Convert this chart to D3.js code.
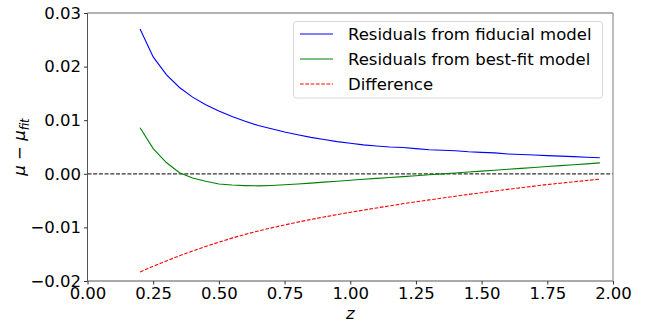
<!DOCTYPE html>
<html>
<head>
<meta charset="utf-8">
<script src="https://cdn.jsdelivr.net/npm/d3@7"></script>
<style>
  body { margin: 0; background: #fff; }
  svg { display: block; font-family: "DejaVu Sans", sans-serif; }
</style>
</head>
<body>
<svg id="chart" width="660" height="322"></svg>
<script>
// ---- data ----
const redshift = [0.20,0.25,0.30,0.35,0.40,0.45,0.50,0.55,0.60,0.65,0.70,0.75,0.80,0.85,0.90,0.95,1.00,1.05,1.10,1.15,1.20,1.25,1.30,1.35,1.40,1.45,1.50,1.55,1.60,1.65,1.70,1.75,1.80,1.85,1.90,1.95];
const fiducialResid = [0.0270,0.0218,0.0185,0.0161,0.0143,0.0129,0.0117,0.0107,0.0098,0.0090,0.0084,0.0078,0.0073,0.0068,0.0064,0.0060,0.0057,0.0054,0.0052,0.0050,0.0049,0.0047,0.0045,0.0044,0.0043,0.0041,0.0040,0.0039,0.0037,0.0036,0.0035,0.0034,0.0033,0.0032,0.0031,0.0030];
const bestfitResid = [0.0086,0.0047,0.0021,0.0002,-0.0008,-0.0014,-0.0019,-0.0021,-0.0022,-0.00225,-0.00217,-0.00205,-0.0019,-0.00174,-0.00156,-0.00138,-0.0012,-0.00103,-0.00086,-0.00069,-0.00052,-0.00035,-0.00018,-0.00001,0.00016,0.00033,0.0005,0.00067,0.00084,0.00101,0.00118,0.00135,0.00152,0.00169,0.00186,0.00203];
const difference = [-0.01830,-0.01725,-0.01625,-0.01530,-0.01440,-0.01355,-0.01275,-0.01200,-0.01130,-0.01067,-0.01009,-0.00954,-0.00902,-0.00853,-0.00806,-0.00761,-0.00718,-0.00677,-0.00637,-0.00598,-0.00560,-0.00523,-0.00487,-0.00452,-0.00418,-0.00385,-0.00353,-0.00322,-0.00290,-0.00260,-0.00230,-0.00200,-0.00175,-0.00150,-0.00125,-0.00100];
const xTicks = [0.00,0.25,0.50,0.75,1.00,1.25,1.50,1.75,2.00];
const yTicks = [-0.02,-0.01,0.00,0.01,0.02,0.03];
const seriesNames = ["Residuals from fiducial model","Residuals from best-fit model","Difference"];

// ---- layout ----
const svg = d3.select("#chart");
const L = 87.5, R = 613, T = 13, B = 281;
const x = d3.scaleLinear().domain([0, 2]).range([L, R]);
const y = d3.scaleLinear().domain([-0.02, 0.03]).range([B, T]);
const fs = 16.5;

// zero line
svg.append("line")
  .attr("x1", L).attr("x2", R)
  .attr("y1", y(0)).attr("y2", y(0))
  .attr("stroke", "#333").attr("stroke-width", 1.25)
  .attr("stroke-dasharray", "4,1.7");

const line = d3.line().x((d, i) => x(redshift[i])).y(d => y(d));
const series = [
  { vals: fiducialResid, color: "#0000ff", dash: null },
  { vals: bestfitResid, color: "#008000", dash: null },
  { vals: difference, color: "#ff0000", dash: "3.7,1.6" }
];
series.forEach(s => {
  svg.append("path").datum(s.vals)
    .attr("d", line)
    .attr("fill", "none")
    .attr("stroke", s.color)
    .attr("stroke-width", 1.1)
    .attr("stroke-dasharray", s.dash);
});

// spines
const spine = svg.append("g").attr("fill", "none");
spine.append("line").attr("x1", L).attr("x2", L).attr("y1", T).attr("y2", B).attr("stroke", "#555").attr("stroke-width", 1);
spine.append("line").attr("x1", L).attr("x2", R).attr("y1", B).attr("y2", B).attr("stroke", "#555").attr("stroke-width", 1);
spine.append("line").attr("x1", L).attr("x2", R).attr("y1", T).attr("y2", T).attr("stroke", "#999").attr("stroke-width", 1.3);
spine.append("line").attr("x1", R).attr("x2", R).attr("y1", T).attr("y2", B).attr("stroke", "#999").attr("stroke-width", 1.3);

// axes
const xAxis = d3.axisBottom(x).tickValues(xTicks).tickFormat(d3.format(".2f")).tickSizeOuter(0).tickSizeInner(3.5).tickPadding(2.5);
const gx = svg.append("g").attr("transform", `translate(0,${B})`).call(xAxis);
gx.select(".domain").remove();
gx.selectAll(".tick line").attr("stroke", "#333");
gx.selectAll("text").attr("font-size", fs).attr("font-family", "DejaVu Sans").attr("fill", "#000");

const fmtY = d => (d < 0 ? "\u2212" : "") + d3.format(".2f")(Math.abs(d));
const yAxis = d3.axisLeft(y).tickValues(yTicks).tickFormat(fmtY).tickSizeOuter(0).tickSizeInner(3.5).tickPadding(3);
const gy = svg.append("g").attr("transform", `translate(${L},0)`).call(yAxis);
gy.select(".domain").remove();
gy.selectAll(".tick line").attr("stroke", "#333");
gy.selectAll("text").attr("font-size", fs).attr("font-family", "DejaVu Sans").attr("fill", "#000");

// axis labels
svg.append("text")
  .attr("x", (L + R) / 2).attr("y", 318.5)
  .attr("text-anchor", "middle")
  .attr("font-size", fs).attr("font-style", "italic")
  .text("z");

const yl = svg.append("text")
  .attr("transform", `translate(25,${(T + B) / 2}) rotate(-90)`)
  .attr("text-anchor", "middle")
  .attr("font-size", fs);
yl.append("tspan").attr("font-style", "italic").text("\u03bc");
yl.append("tspan").text(" \u2212 ");
yl.append("tspan").attr("font-style", "italic").text("\u03bc");
yl.append("tspan").attr("font-style", "italic").attr("font-size", fs * 0.7).attr("dy", 4).text("fit");

// legend
const lg = svg.append("g");
lg.append("rect")
  .attr("x", 293.5).attr("y", 21.5).attr("width", 309).attr("height", 76.5)
  .attr("rx", 3).attr("fill", "#fff").attr("fill-opacity", 0.8)
  .attr("stroke", "#d8d8d8").attr("stroke-width", 1);
const rowsY = [34, 59, 84];
series.forEach((s, i) => {
  lg.append("line")
    .attr("x1", 300).attr("x2", 333)
    .attr("y1", rowsY[i]).attr("y2", rowsY[i])
    .attr("stroke", s.color).attr("stroke-width", 1.05)
    .attr("stroke-dasharray", s.dash);
  lg.append("text")
    .attr("x", 348).attr("y", rowsY[i])
    .attr("dy", "0.35em")
    .attr("font-size", fs)
    .text(seriesNames[i]);
});
</script>
</body>
</html>
